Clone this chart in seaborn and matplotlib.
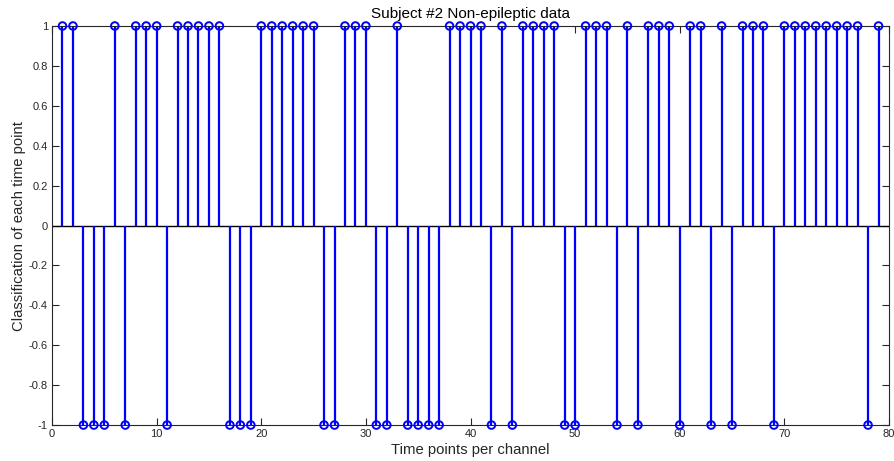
import numpy as np
import pandas as pd
import matplotlib
matplotlib.use("Agg")
import matplotlib.pyplot as plt
import seaborn as sns

# Data
time_points = list(range(1, 80))
negative_points = [3, 4, 5, 7, 11, 17, 18, 19, 26, 27, 31, 32, 34, 35, 36, 37,
                   42, 44, 49, 50, 54, 56, 60, 63, 65, 69, 78]
classification = [-1 if t in negative_points else 1 for t in time_points]
x_ticks = [0, 10, 20, 30, 40, 50, 60, 70, 80]
y_ticks = [-1, -0.8, -0.6, -0.4, -0.2, 0, 0.2, 0.4, 0.6, 0.8, 1]
y_tick_labels = ["-1", "-0.8", "-0.6", "-0.4", "-0.2", "0", "0.2", "0.4", "0.6", "0.8", "1"]

df = pd.DataFrame({"t": time_points, "c": classification})

sns.set_style("white")
plt.rcParams["font.family"] = ["Liberation Sans", "DejaVu Sans"]

fig = plt.figure(figsize=(8.94, 4.61), dpi=100)
ax = fig.add_axes([0.0582, 0.078, 0.9362, 0.8656])

# baseline
ax.axhline(0, color="#000000", lw=1.0, zorder=1)
# stems
ax.vlines(df["t"], 0, df["c"], color="#0000ff", lw=1.6, zorder=2)
# markers
sns.scatterplot(data=df, x="t", y="c", ax=ax, marker="o", s=30,
                facecolors="none", edgecolor="#0000ff", linewidth=1.4,
                zorder=3, clip_on=False, legend=False)

ax.set_xlim(0, 80)
ax.set_ylim(-1, 1)
ax.set_xticks(x_ticks)
ax.set_xticklabels([str(v) for v in x_ticks])
ax.set_yticks(y_ticks)
ax.set_yticklabels(y_tick_labels)
ax.tick_params(direction="in", length=5, width=0.8, colors="#262626",
               labelsize=8, top=True, right=True, bottom=True, left=True, pad=3)
for s in ax.spines.values():
    s.set_visible(True)
    s.set_color("#262626")
    s.set_linewidth(0.8)

ax.set_title("Subject #2 Non-epileptic data", fontsize=11, pad=6, color="#000000")
ax.set_xlabel("Time points per channel", fontsize=10.7, labelpad=2.5)
ax.set_ylabel("Classification of each time point", fontsize=10.7, labelpad=2)

fig.savefig("out.png", dpi=100)
